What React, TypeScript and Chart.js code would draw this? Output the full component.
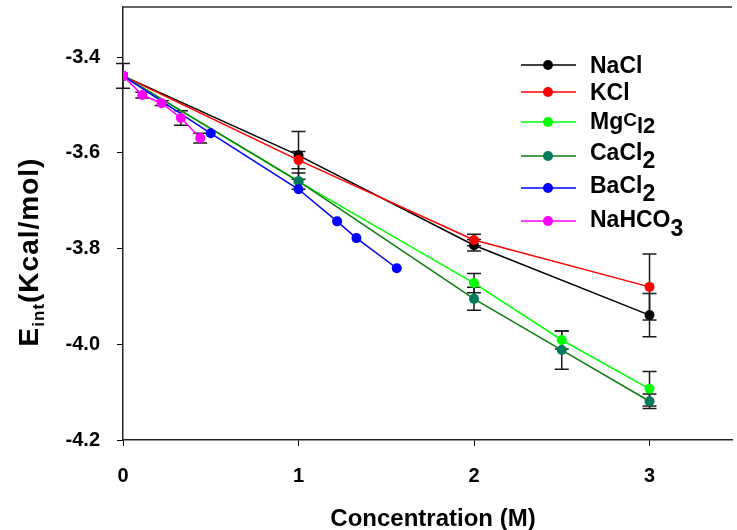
import React, { useEffect, useRef } from 'react';
import { Chart, registerables } from 'chart.js';
Chart.register(...registerables);

const FONT = '"Liberation Sans", Arial, Helvetica, sans-serif';

// ---- data ----
const naclX = [0, 1, 2, 3];
const naclY = [-3.439, -3.605, -3.793, -3.939];
const naclErr = [0, 0.05, 0.012, 0.045];

const kclX = [0, 1, 2, 3];
const kclY = [-3.439, -3.615, -3.782, -3.88];
const kclErr = [0, 0.018, 0.012, 0.069];

const mgX = [0, 1, 2, 2.5, 3];
const mgY = [-3.439, -3.66, -3.872, -3.991, -4.093];
const mgErr = [0, 0, 0.02, 0.019, 0.036];

const caX = [0, 1, 2, 2.5, 3];
const caY = [-3.439, -3.659, -3.905, -4.012, -4.119];
const caErr = [0, 0.017, 0.024, 0.04, 0.015];

const baX = [0, 0.5, 1, 1.22, 1.33, 1.56];
const baY = [-3.439, -3.559, -3.676, -3.743, -3.778, -3.841];
const baErr = [0, 0, 0, 0, 0, 0];

const hcoX = [0, 0.11, 0.22, 0.33, 0.44];
const hcoY = [-3.439, -3.479, -3.496, -3.527, -3.569];
const hcoErr = [0.026, 0.006, 0.005, 0.015, 0.01];

const xTicks = [0, 1, 2, 3];
const yTicks = [-4.2, -4.0, -3.8, -3.6, -3.4];

const seriesLabels = ['NaCl', 'KCl', 'MgCl2', 'CaCl2', 'BaCl2', 'NaHCO3'];

export default function App() {
  const ref = useRef<HTMLCanvasElement>(null);

  useEffect(() => {
    const canvas = ref.current!;
    const series = [
      { x: naclX, y: naclY, err: naclErr, line: '#000000', marker: '#000000' },
      { x: kclX, y: kclY, err: kclErr, line: '#ff0000', marker: '#ff0000' },
      { x: mgX, y: mgY, err: mgErr, line: '#00ff00', marker: '#00ff00' },
      { x: caX, y: caY, err: caErr, line: '#0b7d0b', marker: '#007a5c' },
      { x: baX, y: baY, err: baErr, line: '#0000ff', marker: '#0000ff' },
      { x: hcoX, y: hcoY, err: hcoErr, line: '#ff00ff', marker: '#ff00ff' },
    ];

    const legendRows: any[] = [
      { y: 65, segs: [['NaCl', 23, 8]] },
      { y: 92, segs: [['KCl', 23, 8]] },
      { y: 122, segs: [['Mg', 23, 7], ['C', 19, 4], ['l2', 22, 11]] },
      { y: 156, segs: [['CaCl', 23, 4], ['2', 23, 12]] },
      { y: 188, segs: [['BaCl', 23, 5], ['2', 23, 13]] },
      { y: 221, segs: [['NaHCO', 23, 6], ['3', 23, 15]] },
    ];

    const errorBars = {
      id: 'errorBars',
      beforeDatasetsDraw(chart: any) {
        const c = chart.ctx;
        const xs = chart.scales.x;
        const ys = chart.scales.y;
        c.save();
        c.strokeStyle = '#1a1a1a';
        c.lineWidth = 1.5;
        series.forEach((s) => {
          s.x.forEach((xv, i) => {
            const e = s.err[i];
            if (!e) return;
            const px = xs.getPixelForValue(xv);
            const top = ys.getPixelForValue(s.y[i] + e);
            const bot = ys.getPixelForValue(s.y[i] - e);
            c.beginPath();
            c.moveTo(px, top);
            c.lineTo(px, bot);
            c.moveTo(px - 7, top);
            c.lineTo(px + 7, top);
            c.moveTo(px - 7, bot);
            c.lineTo(px + 7, bot);
            c.stroke();
          });
        });
        c.restore();
      },
    };

    const drawSegs = (c: CanvasRenderingContext2D, segs: any[], x: number, y: number) => {
      let cx = x;
      segs.forEach(([t, size, dy]) => {
        c.font = `bold ${size}px ${FONT}`;
        c.fillText(t, cx, y + dy);
        cx += c.measureText(t).width;
      });
    };

    const deco = {
      id: 'deco',
      afterDraw(chart: any) {
        const c = chart.ctx as CanvasRenderingContext2D;
        const area = chart.chartArea;
        c.save();
        // top border
        c.strokeStyle = '#333';
        c.lineWidth = 1.5;
        c.beginPath();
        c.moveTo(area.left, area.top);
        c.lineTo(area.right, area.top);
        c.stroke();

        // legend
        c.textBaseline = 'alphabetic';
        c.textAlign = 'left';
        legendRows.forEach((r, i) => {
          const s = series[i];
          c.strokeStyle = s.line;
          c.lineWidth = 1.5;
          c.beginPath();
          c.moveTo(521, r.y);
          c.lineTo(576, r.y);
          c.stroke();
          c.fillStyle = s.marker;
          c.beginPath();
          c.arc(548, r.y, 5, 0, Math.PI * 2);
          c.fill();
          c.fillStyle = '#000';
          drawSegs(c, r.segs, 590, r.y);
        });

        // x title
        c.fillStyle = '#000';
        c.font = `bold 24px ${FONT}`;
        c.textAlign = 'center';
        c.fillText('Concentration (M)', 433, 526);

        // y title
        c.save();
        c.translate(38, 252);
        c.rotate(-Math.PI / 2);
        c.textAlign = 'left';
        (c as any).letterSpacing = '1px';
        const ysegs: any[] = [['E', 28, 0], ['int', 17, 6], ['(Kcal/mol)', 28, 0]];
        let total = 0;
        ysegs.forEach(([t, size]) => {
          c.font = `bold ${size}px ${FONT}`;
          total += c.measureText(t).width;
        });
        drawSegs(c, ysegs, -total / 2, 0);
        c.restore();
        c.restore();
      },
    };

    const chart = new Chart(canvas, {
      type: 'line',
      data: {
        datasets: series.map((s, i) => ({
          label: seriesLabels[i],
          data: s.x.map((v, j) => ({ x: v, y: s.y[j] })),
          borderColor: s.line,
          backgroundColor: s.marker,
          pointBackgroundColor: s.marker,
          pointBorderColor: s.marker,
          pointBorderWidth: 0,
          pointRadius: 5,
          pointHoverRadius: 5,
          borderWidth: 1.5,
          tension: 0,
          fill: false,
          order: series.length - i,
        })),
      },
      options: {
        animation: false,
        responsive: false,
        maintainAspectRatio: false,
        layout: { padding: { top: 7, left: 0, right: 0, bottom: 0 } },
        plugins: { legend: { display: false }, tooltip: { enabled: false } },
        scales: {
          x: {
            type: 'linear',
            min: 0,
            max: 3.47,
            afterBuildTicks: (scale: any) => {
              scale.ticks = xTicks.map((v) => ({ value: v }));
            },
            afterFit: (scale: any) => {
              scale.height = 90;
              scale.paddingLeft = 0;
              scale.paddingRight = 0;
            },
            ticks: {
              color: '#000',
              font: { family: FONT, size: 20, weight: 'bold' },
              padding: 18,
              maxRotation: 0,
              callback: (v: any) => String(v),
            },
            grid: { drawOnChartArea: false, drawTicks: true, tickLength: 6, color: '#000', lineWidth: 1 },
            border: { color: '#222', width: 1.5 },
          },
          y: {
            type: 'linear',
            min: -4.2,
            max: -3.295,
            afterBuildTicks: (scale: any) => {
              scale.ticks = yTicks.map((v) => ({ value: v }));
            },
            afterFit: (scale: any) => {
              scale.width = 123;
              scale.paddingTop = 0;
              scale.paddingBottom = 0;
            },
            ticks: {
              color: '#000',
              font: { family: FONT, size: 20, weight: 'bold' },
              padding: 17,
              callback: (v: any) => Number(v).toFixed(1),
            },
            grid: { drawOnChartArea: false, drawTicks: true, tickLength: 6, color: '#000', lineWidth: 1 },
            border: { color: '#222', width: 1.5 },
          },
        },
      },
      plugins: [errorBars, deco],
    } as any);

    return () => chart.destroy();
  }, []);

  return (
    <div style={{ position: 'fixed', left: 0, top: 0, width: 737, height: 530, background: '#fff' }}>
      <canvas ref={ref} width={737} height={530} style={{ display: 'block', width: 737, height: 530 }} />
    </div>
  );
}
